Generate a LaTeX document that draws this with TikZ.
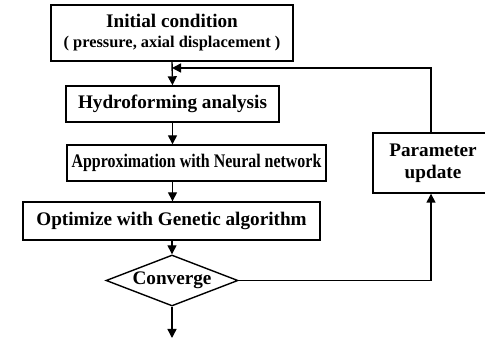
\documentclass[tikz,border=0pt]{standalone}
\usepackage{fontspec}
\setmainfont{Liberation Serif}
\usetikzlibrary{arrows.meta,shapes.geometric}

\begin{document}
\begin{tikzpicture}[x=0.5pt, y=-0.5pt, line width=0.7pt,
        box/.style={draw, rectangle, inner sep=0pt, font=\bfseries\fontsize{9.6}{11}\selectfont},
        decide/.style={draw, diamond, aspect=2.6, inner sep=0pt, font=\bfseries\fontsize{9.6}{11}\selectfont},
        flow/.style={-{Triangle[length=4.5pt, width=4.5pt]}}]
        \useasboundingbox (0, 0) rectangle (485, 340);
        \node[box, minimum width=121pt, minimum height=28pt, align=center] (init) at (172, 33)
                {Initial condition\\[-1pt]{\fontsize{8.2}{10}\selectfont ( pressure, axial displacement )}};
        \node[box, minimum width=106.5pt, minimum height=18pt] (hydro) at (172.5, 104) {Hydroforming analysis};
        \node[box, minimum width=129.5pt, minimum height=18pt] (approx) at (196.5, 163)
                {\scalebox{0.83}[1]{Approximation with Neural network}};
        \node[box, minimum width=148.5pt, minimum height=19pt] (optim) at (171.5, 221) {Optimize with Genetic algorithm};
        \node[decide, minimum width=66pt, minimum height=25.5pt] (conv) at (172, 280.5) {Converge};
        \node[box, minimum width=60pt, minimum height=30pt, align=center] (param) at (433, 163) {Parameter\\update};
        \coordinate (join) at (172, 68);
        \coordinate (turn) at (431, 68);
        \coordinate (out) at (172, 338);
        \draw[flow] (init.south) -- (hydro.north);
        \draw[flow] (hydro.south) -- (approx.north -| hydro.south);
        \draw[flow] (approx.south -| hydro.south) -- (optim.north -| hydro.south);
        \draw[flow] (optim.south -| conv.north) -- (conv.north);
        \draw[flow] (conv.south) -- (out);
        \draw[flow] (conv.east) -| (param.south -| turn);
        \draw[flow] (param.north -| turn) -- (turn) -- (join);
\end{tikzpicture}
\end{document}
